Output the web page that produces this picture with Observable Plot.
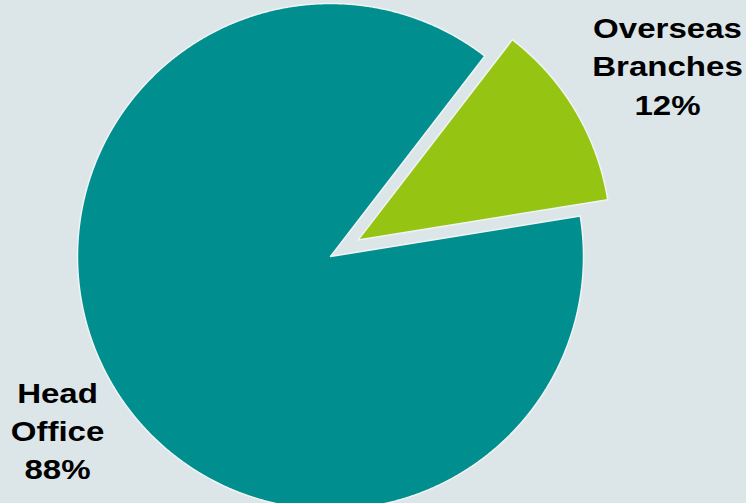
<!DOCTYPE html>
<html><head><meta charset="utf-8">
<script src="https://cdn.jsdelivr.net/npm/d3@7"></script>
<script src="https://cdn.jsdelivr.net/npm/@observablehq/plot@0.6"></script>
<style>html,body{margin:0;padding:0;background:#DCE6E9;} svg{display:block}</style>
</head><body><div id="chart"></div>
<script>
// ---- data ----
const categories = ["Head Office", "Overseas Branches"];
const shares = [88, 12];
const labels = ["Head\nOffice\n88%", "Overseas\nBranches\n12%"];
const colors = ["#008E8E", "#95C413"];
const exploded = [false, true];

// ---- layout ----
const W = 746, H = 503, R = 253, CX = 330, CY = 256;
const startDeg = 80.8;     // clockwise from north
const explodePx = 32;
const labelPos = [[57, 478.5], [667, 114]]; // pixel anchor (centre x, last baseline)

const rows = categories.map((c, i) => ({category: c, share: shares[i], label: labels[i], exploded: exploded[i]}));
const a0 = startDeg * Math.PI / 180;
const arcs = d3.pie().sort(null).value(d => d.share).startAngle(a0).endAngle(a0 + 2 * Math.PI)(rows);

const pts = [];
arcs.forEach(a => {
  const cat = a.data.category;
  const mid = (a.startAngle + a.endAngle) / 2;
  const off = a.data.exploded ? explodePx / R : 0;
  const ox = off * Math.sin(mid), oy = off * Math.cos(mid);
  pts.push({cat, x: ox, y: oy});
  const n = Math.max(2, Math.ceil((a.endAngle - a.startAngle) / (Math.PI / 720)));
  for (let k = 0; k <= n; k++) {
    const t = a.startAngle + (a.endAngle - a.startAngle) * k / n;
    pts.push({cat, x: ox + Math.sin(t), y: oy + Math.cos(t)});
  }
  pts.push({cat, x: ox, y: oy});
});

const labelRows = rows.map((r, i) => ({
  label: r.label,
  x: (labelPos[i][0] - CX) / R,
  y: (CY - labelPos[i][1]) / R
}));

const chart = Plot.plot({
  width: W, height: H, margin: 0,
  style: {background: "#DCE6E9"},
  x: {domain: [-CX / R, (W - CX) / R], axis: null},
  y: {domain: [-(H - CY) / R, CY / R], axis: null},
  color: {domain: categories, range: colors},
  marks: [
    Plot.line(pts, {x: "x", y: "y", z: "cat", fill: "cat", stroke: "#F0F4F4", strokeWidth: 1.5, curve: "linear"}),
    Plot.text(labelRows, {x: "x", y: "y", text: "label", fontSize: 28, fontWeight: "bold",
      fontFamily: "Liberation Sans, Arial, sans-serif", lineHeight: 1.36, lineAnchor: "bottom",
      textAnchor: "middle", fill: "#000"})
  ]
});
// horizontally widen labels (as in reference rendering)
chart.querySelectorAll("g[aria-label='text'] text").forEach(t => {
  const tr = t.getAttribute("transform") || "";
  t.setAttribute("transform", tr + " scale(1.18,1)");
});
document.getElementById("chart").appendChild(chart);
</script>
</body></html>
